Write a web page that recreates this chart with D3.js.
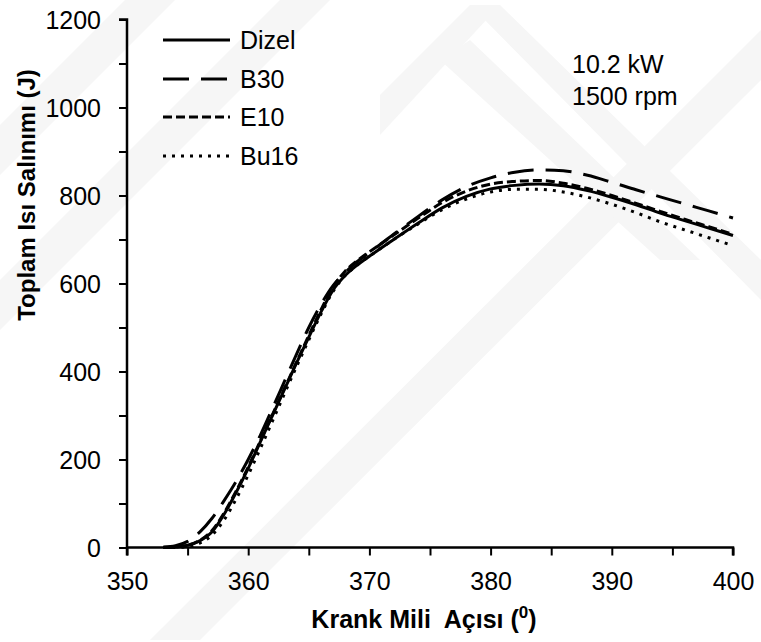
<!DOCTYPE html>
<html>
<head>
<meta charset="utf-8">
<script src="https://cdn.jsdelivr.net/npm/d3@7"></script>
<style>
  body { margin: 0; background: #fff; }
  text { font-family: "Liberation Sans", Arial, sans-serif; fill: #000; }
</style>
</head>
<body>
<div id="chart"></div>
<script>
// crank angle (deg)
var angles = [353,354,355,356,357,358,359,360,361,362,363,364,365,366,367,368,369,370,
  372,374,376,378,380,382,384,386,388,390,392,394,396,398,400];
var dizel = [0,1,5,15,35,75,125,180,240,300,360,420,478,535,585,618,642,662,
  700,737,772,798,815,823,826,822,811,796,779,760,743,726,709];
var b30 = [1,4,14,35,66,106,150,200,255,316,378,440,500,552,595,625,650,670,
  712,752,790,820,840,853,858,856,846,830,813,797,781,765,749];
var e10 = [0,1,5,16,38,78,128,183,242,302,362,422,482,540,592,628,652,672,
  710,748,784,810,826,832,834,828,816,800,782,764,746,729,712];
var bu16 = [0,0,2,10,28,62,110,165,225,287,350,412,472,530,582,618,642,662,
  700,735,768,792,808,814,814,808,796,780,761,740,722,704,686];

var names = ["Dizel","B30","E10","Bu16"];
var dashes = ["none","26,12","9,4","3,6"];
var xTicks = [350,360,370,380,390,400];
var yTicks = [0,200,400,600,800,1000,1200];

var W = 761, H = 642;
var svg = d3.select("#chart").append("svg")
  .attr("width", W).attr("height", H);

// faint watermark bands
var wm = [
  [[0,175],[0,125],[125,0],[175,0]],
  [[0,330],[0,280],[280,0],[330,0]],
  [[200,640],[150,640],[761,30],[761,80]],
  [[380,135],[380,95],[470,5],[500,5]],
  [[470,5],[500,5],[761,260],[761,300]],
  [[440,60],[470,40],[700,260],[660,260]]
];
svg.selectAll("polygon.wm").data(wm).enter().append("polygon")
  .attr("class","wm")
  .attr("points", function(d){ return d.map(function(p){return p.join(",");}).join(" "); })
  .attr("fill", "#f6f6f6");

var x = d3.scaleLinear().domain([350,400]).range([127,733]);
var y = d3.scaleLinear().domain([0,1200]).range([547.5,19.5]);

var series = [dizel,b30,e10,bu16];
var line = d3.line()
  .x(function(d){ return x(d[0]); })
  .y(function(d){ return y(d[1]); })
  .curve(d3.curveMonotoneX);

svg.selectAll("path.s").data(series).enter().append("path")
  .attr("class","s")
  .attr("d", function(s){ return line(angles.map(function(a,i){ return [a, s[i]]; })); })
  .attr("fill","none").attr("stroke","#000").attr("stroke-width",3)
  .attr("stroke-dasharray", function(d,i){ return dashes[i]; });

// axes
var xAxis = d3.axisBottom(x).tickValues(d3.range(350,401,5)).tickSize(8)
  .tickFormat(function(d){ return xTicks.indexOf(d) >= 0 ? d : ""; });
var gx = svg.append("g").attr("transform","translate(0," + y(0) + ")").call(xAxis);
var yAxis = d3.axisLeft(y).tickValues(d3.range(0,1201,100)).tickSize(8)
  .tickFormat(function(d){ return yTicks.indexOf(d) >= 0 ? d : ""; });
var gy = svg.append("g").attr("transform","translate(" + x(350) + ",0)").call(yAxis);

[gx, gy].forEach(function(g){
  g.select(".domain").attr("stroke","#000").attr("stroke-width",2.5);
  g.selectAll(".tick line").attr("stroke","#000").attr("stroke-width",2);
  g.selectAll(".tick text").style("font-size","25px")
    .style("font-family","'Liberation Sans', Arial, sans-serif").attr("fill","#000");
});
gx.selectAll(".tick text").attr("y",0).attr("dy",0).attr("transform","translate(0,42)");
gy.selectAll(".tick text").attr("x",-26).attr("dy","0.35em");
gx.select(".domain").attr("d","M" + x(350) + ",0H" + x(400) + "V8");
gy.select(".domain").attr("d","M-8," + y(1200) + "H0V" + (y(0)+8));

// axis titles
var xt = svg.append("text").attr("x",424).attr("y",628).attr("text-anchor","middle")
  .style("font-size","25px").style("font-weight","bold").style("white-space","pre");
xt.append("tspan").text("Krank Mili  Açısı (");
xt.append("tspan").text("0").attr("dy",-10).style("font-size","17px");
xt.append("tspan").text(")").attr("dy",10);

svg.append("text").attr("transform","translate(35,195) rotate(-90)")
  .attr("text-anchor","middle").style("font-size","24px").style("font-weight","bold")
  .text("Toplam Isı Salınımı (J)");

// legend
var legY = [40,79,117,156];
var leg = svg.selectAll("g.leg").data(names).enter().append("g").attr("class","leg")
  .attr("transform", function(d,i){ return "translate(163," + legY[i] + ")"; });
leg.append("line").attr("x1",0).attr("x2",67).attr("y1",0).attr("y2",0)
  .attr("stroke","#000").attr("stroke-width",3)
  .attr("stroke-dasharray", function(d,i){ return dashes[i]; });
leg.append("text").attr("x",77).attr("y",9).style("font-size","25px")
  .text(function(d){ return d; });

// annotation
svg.append("text").attr("x",572).attr("y",73).style("font-size","25px").text("10.2 kW");
svg.append("text").attr("x",572).attr("y",105).style("font-size","25px").text("1500 rpm");
</script>
</body>
</html>
